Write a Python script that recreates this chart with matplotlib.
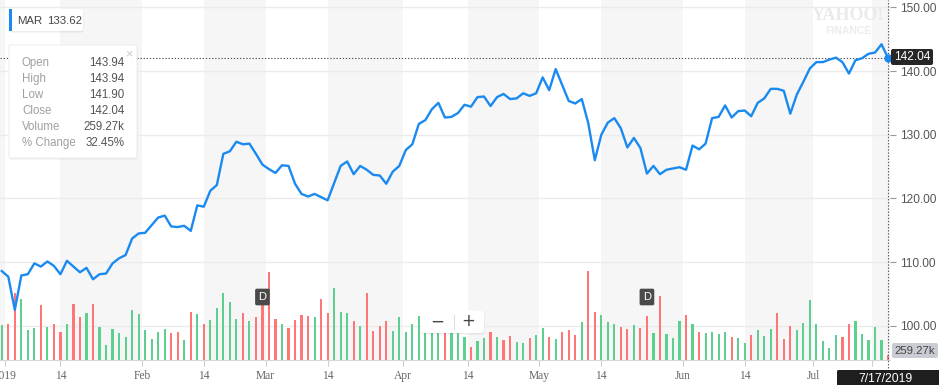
import matplotlib
matplotlib.use("Agg")
import matplotlib.pyplot as plt
from matplotlib.patches import FancyBboxPatch, Rectangle
from matplotlib.transforms import Affine2D, blended_transform_factory
import numpy as np
import pandas as pd

# ---------------- data ----------------
holidays = ["2019-01-01", "2019-01-21", "2019-02-18", "2019-04-19", "2019-05-27", "2019-07-04"]
dates = [d for d in pd.bdate_range("2018-12-31", "2019-07-17") if d.strftime("%Y-%m-%d") not in holidays]

close = [108.6, 107.7, 102.5, 107.9, 108.1, 109.8, 109.3, 110.1, 109.4, 108.1,
         110.2, 109.3, 108.4, 109.1, 107.3, 108.1, 108.2, 109.8, 110.6, 111.1,
         113.7, 114.5, 114.6, 115.8, 117.0, 117.3, 115.6, 115.5, 115.7, 114.9,
         118.9, 118.7, 121.2, 122.1, 127.0, 127.4, 128.9, 128.5, 128.6, 127.0,
         125.3, 124.6, 124.0, 125.2, 125.1, 122.3, 120.7, 120.3, 120.7, 120.2,
         119.7, 122.4, 125.1, 125.8, 123.8, 125.1, 124.5, 123.7, 123.6, 122.3,
         124.2, 125.1, 127.6, 128.5, 131.7, 132.3, 134.0, 135.0, 132.7, 132.8,
         133.4, 134.7, 134.4, 135.9, 136.0, 134.5, 135.9, 136.4, 135.6, 135.7,
         136.5, 136.1, 136.5, 139.0, 137.0, 140.3, 137.8, 135.3, 134.9, 135.6,
         131.8, 126.0, 130.0, 131.9, 132.6, 131.0, 128.0, 129.5, 127.9, 123.9,
         125.1, 123.8, 124.5, 124.7, 124.9, 124.5, 128.3, 127.7, 128.6, 132.6,
         132.8, 134.6, 132.7, 133.7, 133.8, 132.9, 135.0, 135.7, 137.2, 137.2,
         136.9, 133.3, 136.3, 138.3, 140.4, 141.4, 141.4, 141.8, 142.1, 141.4,
         139.6, 141.7, 142.0, 142.7, 142.9, 144.2, 142.04]

volume_k = [1925, 1980, 3670, 3355, 1650, 1760, 3025, 1815, 1960, 1525,
            1980, 3065, 2365, 2570, 3065, 1815, 825, 1705, 1470, 1265,
            2750, 2530, 1650, 1155, 1555, 1705, 1470, 1525, 1115, 2625,
            2530, 1980, 2200, 2860, 3670, 3175, 2255, 2585, 2160, 2365,
            3300, 4855, 2255, 1980, 1760, 2200, 2460, 2400, 2365, 3355,
            2570, 3945, 2655, 2570, 2130, 1855, 3700, 1610, 1855, 2130,
            1610, 2365, 1525, 1980, 2400, 2200, 2475, 2090, 1925, 2200,
            1760, 1265, 715, 1060, 1210, 1525, 1265, 1115, 1320, 1005,
            920, 1210, 1360, 1760, 1265, 1155, 1525, 1650, 1360, 2075,
            4910, 2625, 2460, 2075, 1980, 1815, 1705, 1910, 1760, 2400,
            1470, 3520, 1415, 1210, 2160, 2460, 1980, 1555, 1470, 1555,
            1415, 1525, 1265, 1210, 920, 1360, 1650, 1305, 1705, 2570,
            1155, 1855, 1650, 2020, 3300, 1980, 1060, 660, 1360, 1250,
            1980, 2130, 1415, 1115, 1815, 1115, 259]

volume_up = [1, 0, 0, 1, 1, 1, 0, 1, 0, 0,
             1, 0, 0, 1, 0, 1, 1, 1, 1, 1,
             1, 1, 1, 1, 1, 1, 0, 0, 1, 0,
             1, 0, 1, 1, 1, 1, 1, 0, 1, 0,
             0, 0, 0, 1, 0, 0, 0, 0, 1, 0,
             0, 1, 1, 1, 0, 1, 0, 0, 0, 0,
             1, 1, 1, 1, 1, 1, 1, 1, 0, 1,
             1, 1, 0, 1, 1, 0, 1, 0, 0, 1,
             1, 0, 1, 1, 0, 1, 0, 0, 0, 1,
             0, 0, 1, 1, 1, 0, 0, 1, 0, 0,
             1, 0, 1, 1, 1, 0, 1, 0, 1, 1,
             1, 1, 0, 1, 1, 0, 1, 1, 1, 0,
             0, 0, 1, 1, 1, 1, 1, 1, 1, 0,
             0, 1, 1, 1, 1, 1, 0]

dividend_dates = ["2019-02-28", "2019-05-23"]

tick_dates = ["2019-01-01", "2019-01-14", "2019-02-01", "2019-02-14", "2019-03-01", "2019-03-14",
              "2019-04-01", "2019-04-14", "2019-05-01", "2019-05-14", "2019-06-01", "2019-06-14",
              "2019-07-01", "2019-07-14"]
tick_labels = ["2019", "14", "Feb", "14", "Mar", "14", "Apr", "14", "May", "14", "Jun", "14", "Jul", "14"]

price_ticks = [100, 110, 120, 130, 140, 150]

symbol = "MAR"
compare_value = "133.62"
tooltip_rows = [("Open", "143.94"), ("High", "143.94"), ("Low", "141.90"), ("Close", "142.04"),
                ("Volume", "259.27k"), ("% Change", "32.45%")]
last_volume_label = "259.27k"
last_date_label = "7/17/2019"

# ---------------- layout ----------------
W, H = 939, 385
fig = plt.figure(figsize=(W / 100, H / 100), dpi=100)
fig.patch.set_facecolor("white")
PX = Affine2D().scale(1 / W, -1 / H).translate(0, 1) + fig.transFigure

plot_right = 890
plot_bottom = 360
pos = [0, (H - plot_bottom) / H, plot_right / W, plot_bottom / H]

n = len(close)
x = np.arange(n)
date_strs = [d.strftime("%Y-%m-%d") for d in dates]

def date_pos(ds):
    ts = pd.Timestamp(ds)
    i = int(np.searchsorted(np.array(dates, dtype="datetime64[ns]"), np.datetime64(ts)))
    if ts.day == 1 or ds not in date_strs:
        return i - 0.5
    return float(i)

tick_pos = [date_pos(d) for d in tick_dates]

ax_v = fig.add_axes(pos)
ax = fig.add_axes(pos, sharex=ax_v)
ax.patch.set_alpha(0)
ax_v.set_zorder(1)
ax.set_zorder(2)

xmin, xmax = -0.273, 136.3
ax_v.set_xlim(xmin, xmax)
ax.set_ylim(94.63, 151.15)
ax_v.set_ylim(0, 19800)

# background bands
band_col = "#f6f6f6"
ax_v.axvspan(xmin, tick_pos[0], color=band_col, lw=0, zorder=0)
for k in range(1, len(tick_pos), 2):
    end = tick_pos[k + 1] if k + 1 < len(tick_pos) else xmax
    ax_v.axvspan(tick_pos[k], end, color=band_col, lw=0, zorder=0)

# horizontal grid (behind bars)
gtrans = blended_transform_factory(ax_v.transAxes, ax.transData)
for p in price_ticks:
    ax_v.plot([0, 1], [p, p], transform=gtrans, color="#ebebeb", lw=1, zorder=0.5)

# volume bars
green, red = "#5dd08f", "#ff7676"
cols = [green if u else red for u in volume_up]
ax_v.bar(x, volume_k, width=0.33, color=cols, lw=0, zorder=2)

# price line
ax.plot(x, close, color="#1a8af0", lw=1.7, zorder=5, solid_joinstyle="round")

# crosshair lines
ax.hlines(close[-1], xmin, x[-1], colors="#555555", linestyles=(0, (1.2, 1.6)), lw=0.8, zorder=4)
ax.axvline(x[-1], ymin=-0.03, ymax=1, color="#555555", ls=(0, (1.2, 1.6)), lw=0.8, clip_on=False, zorder=4)
ax.plot([x[-1]], [close[-1]], "o", color="#1a8af0", ms=5, zorder=6, clip_on=False)

# axes styling
for a in (ax, ax_v):
    for s in a.spines.values():
        s.set_visible(False)
ax_v.set_yticks([])
ax_v.tick_params(axis="x", which="both", bottom=False, labelbottom=False)
ax.spines["bottom"].set_visible(True)
ax.spines["bottom"].set_color("#d8d8d8")
ax.set_xticks(tick_pos)
ax.set_xticklabels(tick_labels, family="Liberation Serif", fontsize=8.3, color="#666666")
ax.tick_params(axis="x", length=4, pad=3, color="#cccccc")
ax.yaxis.tick_right()
ax.set_yticks(price_ticks)
ax.set_yticklabels([f"{p:.2f}" for p in price_ticks], family="Liberation Sans", fontsize=8.6, color="#555555")
ax.tick_params(axis="y", length=4, pad=3, color="#999999", width=0.8)

# dividend markers
ytop_px = 297
for d in dividend_dates:
    xp = date_pos(d)
    t = blended_transform_factory(ax.transData, PX)
    ax.text(xp, ytop_px, "D", transform=t, ha="center", va="center", fontsize=8, color="white",
            family="Liberation Sans", zorder=10,
            bbox=dict(boxstyle="round,pad=0.3,rounding_size=0.15", fc="#4a4a4a", ec="none"))

# overlays
def box(x0, y0, w, h, fc, ec="none", r=2, z=20, shadow=False, lw=0.8):
    if shadow:
        fig.patches.append(FancyBboxPatch((x0 + 0.5, y0 + 1.5), w, h, boxstyle=f"round,pad=0,rounding_size={r}",
                                          transform=PX, fc="#000000", ec="none", alpha=0.07, zorder=z - 1))
    fig.patches.append(FancyBboxPatch((x0, y0), w, h, boxstyle=f"round,pad=0,rounding_size={r}",
                                      transform=PX, fc=fc, ec=ec, lw=lw, zorder=z))

def txt(xp, yp, s, **kw):
    kw.setdefault("family", "Liberation Sans")
    fig.text(xp / W, 1 - yp / H, s, **kw)

# symbol label
box(9, 9, 74, 22, "white", shadow=True)
fig.patches.append(Rectangle((9, 9), 3, 22, transform=PX, fc="#1a8af0", ec="none", zorder=21))
txt(17.5, 20.5, symbol, fontsize=8.2, color="#444444", va="center", zorder=22)
txt(47, 20.5, compare_value, fontsize=8.2, color="#444444", va="center", zorder=22)

# tooltip
box(9, 45, 128, 113, "white", ec="#eeeeee", shadow=True, r=2)
txt(129, 54.5, "\u00d7", fontsize=9, color="#c8c8c8", ha="center", va="center", zorder=22)
for i, (lab, val) in enumerate(tooltip_rows):
    yy = 63 + 16 * i
    txt(22, yy, lab, fontsize=8.3, color="#a0a0a0", va="center", zorder=22)
    txt(124.5, yy, val, fontsize=8.3, color="#555555", va="center", ha="right", zorder=22)

# watermark
txt(848, 16, "YAHOO!", family="Liberation Serif", fontsize=13, fontweight="bold", color="#eaeaea",
    ha="center", va="center", zorder=3)
txt(848, 30.5, "FINANCE", fontsize=7.5, fontweight="bold", color="#ececec", ha="center", va="center", zorder=3)

# zoom control
box(421, 311, 63, 22, "white", shadow=True, r=3)
fig.lines.append(plt.Line2D([453.5, 453.5], [315, 329], transform=PX, color="#dddddd", lw=0.8, zorder=22))
txt(437, 321.5, "\u2212", fontsize=12, color="#444444", ha="center", va="center", zorder=22, family="DejaVu Sans")
txt(468.5, 321.5, "+", fontsize=12, color="#444444", ha="center", va="center", zorder=22, family="DejaVu Sans")

# price label
box(891, 49, 42, 16, "#262626", r=2)
txt(912, 57.5, f"{close[-1]:.2f}", fontsize=8.6, color="white", ha="center", va="center", zorder=22)

# volume label
box(892, 343, 46, 15, "#c9ccd2", r=2)
txt(915, 350.8, last_volume_label, fontsize=8.2, color="#444444", ha="center", va="center", zorder=22)

# date label
box(837, 370, 104, 17, "#1e1e1e", r=1.5)
txt(886, 378.5, last_date_label, fontsize=8.7, color="white", ha="center", va="center", zorder=22)

fig.savefig("out.png", dpi=100)
